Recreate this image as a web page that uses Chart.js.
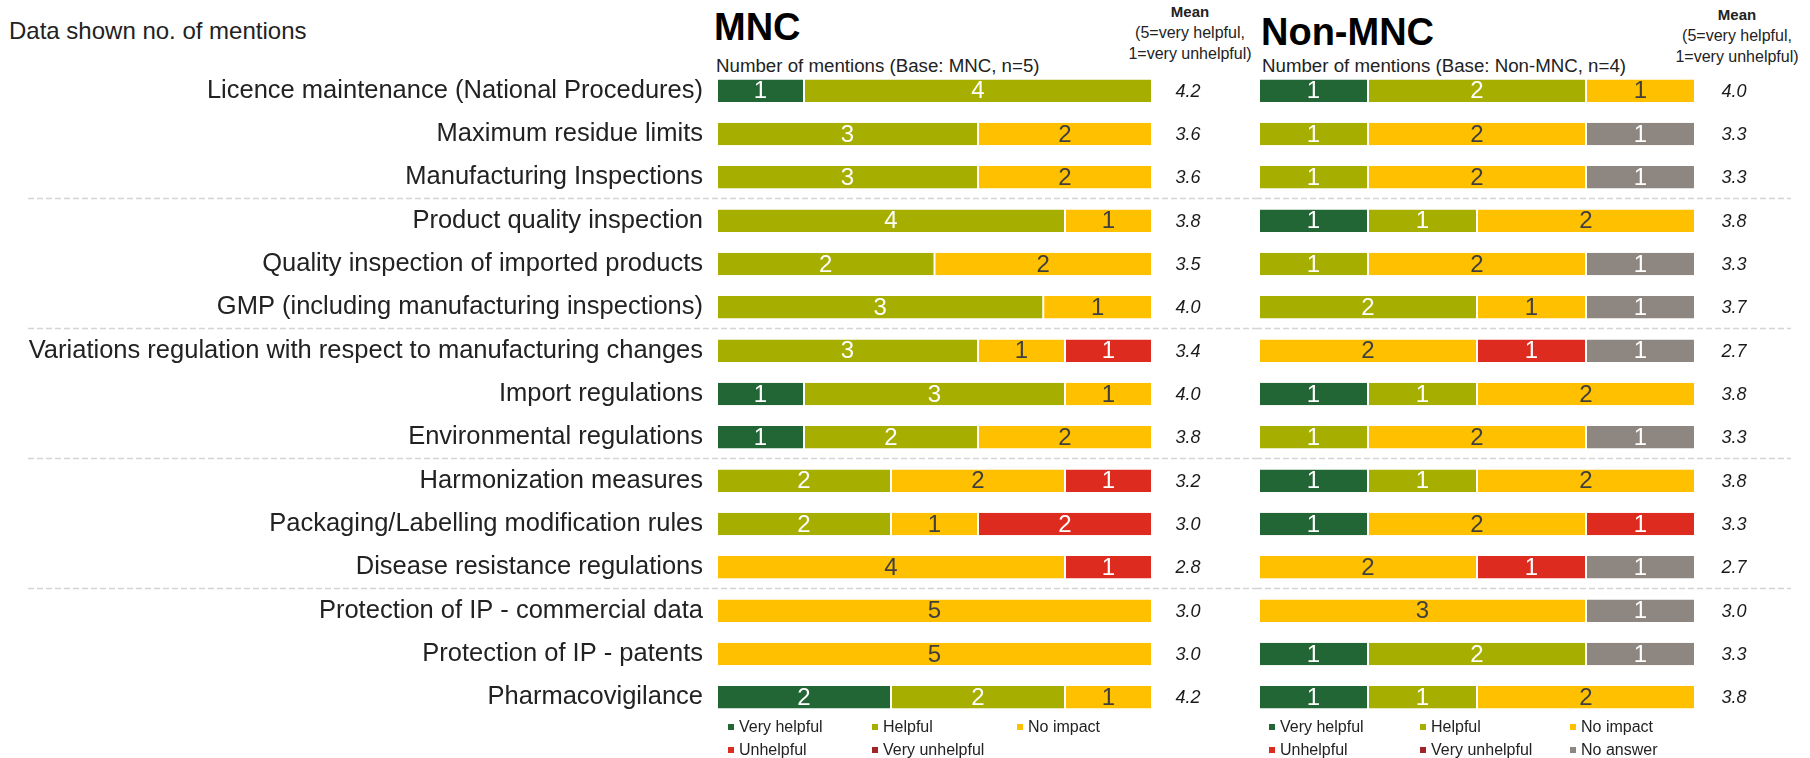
<!DOCTYPE html>
<html>
<head>
<meta charset="utf-8">
<script src="https://cdn.jsdelivr.net/npm/chart.js@4.4.1/dist/chart.umd.min.js"></script>
<style>
  body { margin:0; width:1810px; height:758px; background:#fff; position:relative; overflow:hidden;
         font-family:'Liberation Sans', Arial, sans-serif; color:#222; }
  .t { position:absolute; white-space:nowrap; line-height:1; }
  .note { left:9px; top:19px; font-size:24px; }
  .title { font-size:38px; font-weight:bold; color:#000; }
  .sub { font-size:18.7px; }
  .mean-head { width:200px; text-align:center; font-size:16px; line-height:21px; }
  .mean-head b { font-size:15px; }
  .box { position:absolute; }
  .legend { position:absolute; display:grid; grid-auto-rows:23px; font-size:16px; color:#222; }
  .legend span.item { display:flex; align-items:center; white-space:nowrap; }
  .legend i { display:inline-block; width:6px; height:6px; margin-right:5px; }
</style>
</head>
<body>
<div class="t note">Data shown no. of mentions</div>

<div class="t title" style="left:714px; top:8px;">MNC</div>
<div class="t sub" style="left:716px; top:57px;">Number of mentions (Base: MNC, n=5)</div>
<div class="t mean-head" style="left:1090px; top:1px;"><b>Mean</b><br>(5=very helpful,<br>1=very unhelpful)</div>

<div class="t title" style="left:1261px; top:13px;">Non-MNC</div>
<div class="t sub" style="left:1262px; top:57px;">Number of mentions (Base: Non-MNC, n=4)</div>
<div class="t mean-head" style="left:1637px; top:4px;"><b>Mean</b><br>(5=very helpful,<br>1=very unhelpful)</div>

<div class="box" style="left:0; top:69px; width:1256px; height:650px;"><canvas id="mncChart" width="1256" height="650"></canvas></div>
<div class="box" style="left:1256px; top:69px; width:554px; height:650px;"><canvas id="nonChart" width="554" height="650"></canvas></div>

<div class="legend" id="mncLegend" style="left:728px; top:715px; grid-template-columns:144px 145px 145px;"></div>
<div class="legend" id="nonLegend" style="left:1269px; top:715px; grid-template-columns:151px 150px 150px;"></div>

<script>
// ─────────────────────────────────────────────
// Data
// ─────────────────────────────────────────────

const categories = [
  'Licence maintenance (National Procedures)',
  'Maximum residue limits',
  'Manufacturing Inspections',
  'Product quality inspection',
  'Quality inspection of imported products',
  'GMP (including manufacturing inspections)',
  'Variations regulation with respect to manufacturing changes',
  'Import regulations',
  'Environmental regulations',
  'Harmonization measures',
  'Packaging/Labelling modification rules',
  'Disease resistance regulations',
  'Protection of IP - commercial data',
  'Protection of IP - patents',
  'Pharmacovigilance',
];

const seriesNames = ['Very helpful', 'Helpful', 'No impact', 'Unhelpful', 'Very unhelpful', 'No answer'];

// MNC (n=5)
const mncVeryHelpful   = [1, 0, 0, 0, 0, 0, 0, 1, 1, 0, 0, 0, 0, 0, 2];
const mncHelpful       = [4, 3, 3, 4, 2, 3, 3, 3, 2, 2, 2, 0, 0, 0, 2];
const mncNoImpact      = [0, 2, 2, 1, 2, 1, 1, 1, 2, 2, 1, 4, 5, 5, 1];
const mncUnhelpful     = [0, 0, 0, 0, 0, 0, 1, 0, 0, 1, 2, 1, 0, 0, 0];
const mncVeryUnhelpful = [0, 0, 0, 0, 0, 0, 0, 0, 0, 0, 0, 0, 0, 0, 0];
const mncMean          = ['4.2', '3.6', '3.6', '3.8', '3.5', '4.0', '3.4', '4.0', '3.8', '3.2', '3.0', '2.8', '3.0', '3.0', '4.2'];

// Non-MNC (n=4)
const nonVeryHelpful   = [1, 0, 0, 1, 0, 0, 0, 1, 0, 1, 1, 0, 0, 1, 1];
const nonHelpful       = [2, 1, 1, 1, 1, 2, 0, 1, 1, 1, 0, 0, 0, 2, 1];
const nonNoImpact      = [1, 2, 2, 2, 2, 1, 2, 2, 2, 2, 2, 2, 3, 0, 2];
const nonUnhelpful     = [0, 0, 0, 0, 0, 0, 1, 0, 0, 0, 1, 1, 0, 0, 0];
const nonVeryUnhelpful = [0, 0, 0, 0, 0, 0, 0, 0, 0, 0, 0, 0, 0, 0, 0];
const nonNoAnswer      = [0, 1, 1, 0, 1, 1, 1, 0, 1, 0, 0, 1, 1, 1, 0];
const nonMean          = ['4.0', '3.3', '3.3', '3.8', '3.3', '3.7', '2.7', '3.8', '3.3', '3.8', '3.3', '2.7', '3.0', '3.3', '3.8'];

// group separators after these rows
const groupBreaks = [3, 6, 9, 12];

// ─────────────────────────────────────────────
// Styles
// ─────────────────────────────────────────────

const FONT = "'Liberation Sans', Arial, sans-serif";
const seriesColors = {
  'Very helpful'  : '#226635',
  'Helpful'       : '#a6ae00',
  'No impact'     : '#ffc000',
  'Unhelpful'     : '#de2b20',
  'Very unhelpful': '#a02428',
  'No answer'     : '#8e8680',
};
const labelColors = { 'No impact': '#3f3f3f' };

// ─────────────────────────────────────────────
// Plugins
// ─────────────────────────────────────────────

const segmentLabels = {
  id: 'segmentLabels',
  afterDatasetsDraw(chart) {
    const { ctx } = chart;
    ctx.save();
    ctx.font = '24px ' + FONT;
    ctx.textAlign = 'center';
    ctx.textBaseline = 'middle';
    chart.data.datasets.forEach((ds, di) => {
      chart.getDatasetMeta(di).data.forEach((bar, i) => {
        const n = ds.counts[i];
        if (!n) return;
        ctx.fillStyle = labelColors[ds.label] || '#ffffff';
        ctx.fillText(String(n), (bar.x + bar.base) / 2, bar.y + 1);
      });
    });
    ctx.restore();
  }
};

const meanColumn = {
  id: 'meanColumn',
  afterDraw(chart, args, opts) {
    const { ctx, chartArea } = chart;
    const yScale = chart.scales.y;
    ctx.save();
    ctx.font = 'italic 18px ' + FONT;
    ctx.fillStyle = '#1a1a1a';
    ctx.textAlign = 'center';
    ctx.textBaseline = 'middle';
    opts.values.forEach((v, i) => {
      ctx.fillText(v, chartArea.right + opts.offset, yScale.getPixelForValue(i) + 1);
    });
    ctx.restore();
  }
};

const groupLines = {
  id: 'groupLines',
  beforeDatasetsDraw(chart, args, opts) {
    const { ctx, chartArea } = chart;
    const band = (chartArea.bottom - chartArea.top) / categories.length;
    ctx.save();
    ctx.strokeStyle = '#d4d4d4';
    ctx.lineWidth = 1.5;
    ctx.setLineDash([6, 3]);
    groupBreaks.forEach(b => {
      const y = Math.round(chartArea.top + b * band - 1.5) + 0.5;
      ctx.beginPath();
      ctx.moveTo(opts.from, y);
      ctx.lineTo(opts.to, y);
      ctx.stroke();
    });
    ctx.restore();
  }
};

// ─────────────────────────────────────────────
// Build
// ─────────────────────────────────────────────

function buildDatasets(names, countArrays) {
  const totals = categories.map((_, i) => countArrays.reduce((s, arr) => s + arr[i], 0));
  return names.map((name, k) => ({
    label          : name,
    counts         : countArrays[k],
    data           : countArrays[k].map((c, i) => c / totals[i] * 100),
    backgroundColor: seriesColors[name],
    borderColor    : '#ffffff',
    borderWidth    : { left: 1, right: 1, top: 0, bottom: 0 },
    borderSkipped  : false,
    barPercentage     : 0.52,
    categoryPercentage: 1,
  }));
}

function makeChart(el, datasets, opts) {
  return new Chart(el, {
    type: 'bar',
    data: { labels: categories, datasets },
    plugins: [groupLines, segmentLabels, meanColumn],
    options: {
      indexAxis: 'y',
      responsive: false,
      animation: false,
      devicePixelRatio: 1,
      layout: { padding: opts.padding },
      plugins: {
        legend : { display: false },
        tooltip: { enabled: false },
        meanColumn: { values: opts.means, offset: opts.meanOffset },
        groupLines: { from: opts.lineFrom, to: opts.lineTo },
      },
      scales: {
        x: { stacked: true, min: 0, max: 100, display: false },
        y: {
          stacked: true,
          display: opts.showLabels,
          grid  : { display: false, drawTicks: false },
          border: { display: false },
          ticks : { color: '#222', padding: 14, autoSkip: false, font: { family: FONT, size: 25.5 } },
          afterFit: s => { s.width = opts.axisWidth; s.paddingTop = 0; s.paddingBottom = 0; },
        }
      }
    }
  });
}

makeChart(document.getElementById('mncChart'),
  buildDatasets(seriesNames.slice(0, 5),
    [mncVeryHelpful, mncHelpful, mncNoImpact, mncUnhelpful, mncVeryUnhelpful]),
  { padding: { left: 0, right: 104, top: 0, bottom: 0 }, showLabels: true, axisWidth: 717,
    means: mncMean, meanOffset: 36, lineFrom: 28, lineTo: 1256 });

makeChart(document.getElementById('nonChart'),
  buildDatasets(seriesNames,
    [nonVeryHelpful, nonHelpful, nonNoImpact, nonUnhelpful, nonVeryUnhelpful, nonNoAnswer]),
  { padding: { left: 3, right: 115, top: 0, bottom: 0 }, showLabels: false, axisWidth: 0,
    means: nonMean, meanOffset: 39, lineFrom: 0, lineTo: 535 });

// ─────────────────────────────────────────────
// Legends (3 columns)
// ─────────────────────────────────────────────

function fillLegend(id, names) {
  const box = document.getElementById(id);
  names.forEach(n => {
    const s = document.createElement('span');
    s.className = 'item';
    s.innerHTML = `<i style="background:${seriesColors[n]}"></i>${n}`;
    box.appendChild(s);
  });
}
fillLegend('mncLegend', seriesNames.slice(0, 5));
fillLegend('nonLegend', seriesNames);
</script>
</body>
</html>
